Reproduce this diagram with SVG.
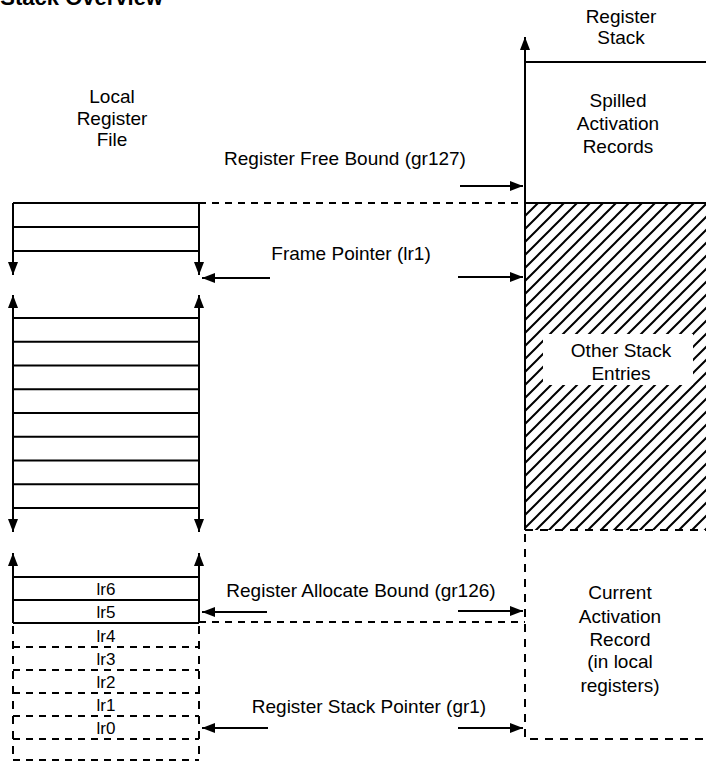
<svg xmlns="http://www.w3.org/2000/svg" width="706" height="761" viewBox="0 0 706 761">
<style>
text{font-family:"Liberation Sans",Arial,sans-serif;fill:#000}
.lbl{font-size:19px;text-anchor:middle}
.lr{font-size:17px;text-anchor:middle}
.s{stroke:#000;stroke-width:2;fill:none}
.d{stroke:#000;stroke-width:2;fill:none;stroke-dasharray:7 6}
.dv{stroke:#000;stroke-width:2;fill:none;stroke-dasharray:8 7}
.a{stroke:#000;stroke-width:2.2;fill:none;marker-end:url(#ah)}
</style>
<defs>
<marker id="ah" viewBox="0 0 13 10" refX="13" refY="5" markerWidth="13" markerHeight="10" markerUnits="userSpaceOnUse" orient="auto-start-reverse">
<path d="M0,0 L13,5 L0,10 z" fill="#000"/>
</marker>
<pattern id="hatch" patternUnits="userSpaceOnUse" width="13" height="13" x="525" y="203">
<path d="M0,13 L13,0 M-2,2 L2,-2 M11,15 L15,11" stroke="#000" stroke-width="2"/>
</pattern>
</defs>
<rect width="706" height="761" fill="#fff"/>
<text x="163" y="5" style="font-size:22px;font-weight:bold;text-anchor:end">Stack Overview</text>

<g id="local-register-file">
<text class="lbl" x="112" y="103">Local</text>
<text class="lbl" x="112" y="125">Register</text>
<text class="lbl" x="112" y="146">File</text>
<path class="s" d="M13,203 H199 M13,227 H199 M13,251 H199"/>
<path class="s" d="M13,203 V275" style="marker-end:url(#ah)"/>
<path class="s" d="M199,203 V275" style="marker-end:url(#ah)"/>
<path class="s" d="M13,318 H199 M13,341.75 H199 M13,365.5 H199 M13,389.25 H199 M13,413 H199 M13,436.75 H199 M13,460.5 H199 M13,484.25 H199 M13,508 H199"/>
<path class="s" d="M13,295 V532" style="marker-start:url(#ah);marker-end:url(#ah)"/>
<path class="s" d="M199,295 V532" style="marker-start:url(#ah);marker-end:url(#ah)"/>
<path class="s" d="M13,577 H199 M13,600 H199 M13,623 H199"/>
<path class="s" d="M13,623 V553" style="marker-end:url(#ah)"/>
<path class="s" d="M199,623 V553" style="marker-end:url(#ah)"/>
<path class="d" d="M13,647 H199 M13,670 H199 M13,693 H199 M13,716 H199 M13,739 H199 M13,760 H199"/>
<path class="dv" d="M13,626 V761 M199,626 V761"/>
<text class="lr" x="106" y="595">lr6</text>
<text class="lr" x="106" y="618">lr5</text>
<text class="lr" x="106" y="642">lr4</text>
<text class="lr" x="106" y="665">lr3</text>
<text class="lr" x="106" y="688">lr2</text>
<text class="lr" x="106" y="711">lr1</text>
<text class="lr" x="106" y="734">lr0</text>
</g>

<g id="register-stack">
<text class="lbl" x="621" y="23">Register</text>
<text class="lbl" x="621" y="44">Stack</text>
<rect x="525" y="203" width="181" height="327" fill="url(#hatch)"/>
<path class="s" d="M525,62 H706 M525,203 H706"/>
<path class="s" d="M525,530 V37" style="marker-end:url(#ah)"/>
<text class="lbl" x="618" y="107">Spilled</text>
<text class="lbl" x="618" y="130">Activation</text>
<text class="lbl" x="618" y="153">Records</text>
<rect x="543" y="334" width="150" height="51" fill="#fff"/>
<text class="lbl" x="621" y="357">Other Stack</text>
<text class="lbl" x="621" y="380">Entries</text>
<path class="dv" d="M525,530 H706"/>
<path class="dv" d="M525,534 V739 H706"/>
<text class="lbl" x="620" y="599">Current</text>
<text class="lbl" x="620" y="623">Activation</text>
<text class="lbl" x="620" y="646">Record</text>
<text class="lbl" x="620" y="668">(in local</text>
<text class="lbl" x="620" y="692">registers)</text>
</g>

<g id="connectors">
<path class="d" d="M199,203 H525"/>
<path class="d" d="M199,622 H525"/>
<path class="a" d="M460,186 H523"/>
<path class="a" d="M270,278 H202"/>
<path class="a" d="M458,277 H523"/>
<path class="a" d="M267,612 H202"/>
<path class="a" d="M458,611 H523"/>
<path class="a" d="M268,728 H202"/>
<path class="a" d="M458,728 H523"/>
</g>

<g id="labels">
<text class="lbl" x="345" y="165">Register Free Bound (gr127)</text>
<text class="lbl" x="351" y="260">Frame Pointer (lr1)</text>
<text class="lbl" x="361" y="597">Register Allocate Bound (gr126)</text>
<text class="lbl" x="369" y="713">Register Stack Pointer (gr1)</text>
</g>
</svg>
